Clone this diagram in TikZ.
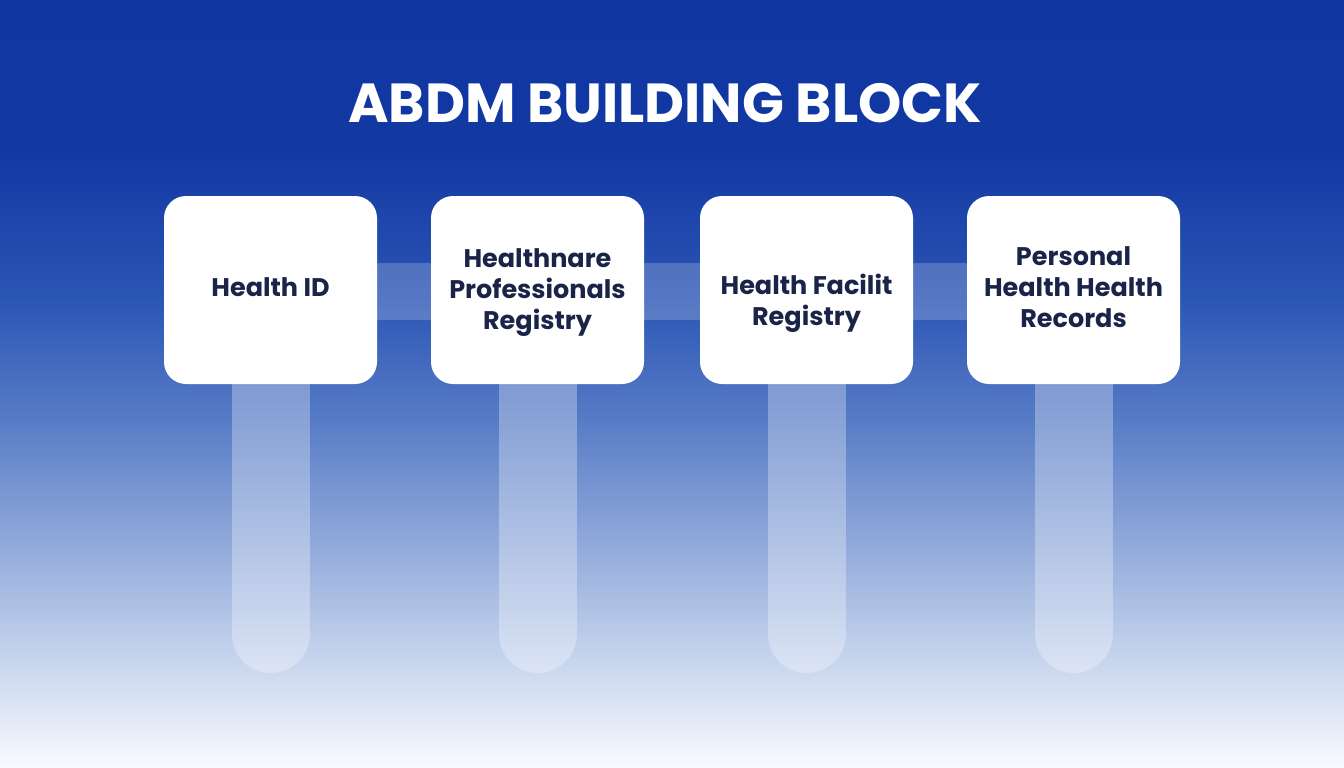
\documentclass[tikz,border=0pt]{standalone}
\usepackage{fontspec}
\setmainfont{Poppins}
\newfontfamily\titlefont{Poppins}
\usetikzlibrary{backgrounds}
\definecolor{ink}{HTML}{1A2448}
\definecolor{g0}{HTML}{1036A0}
\definecolor{g1}{HTML}{1238A3}
\definecolor{g2}{HTML}{2C56B5}
\definecolor{g3}{HTML}{577CC6}
\definecolor{g4}{HTML}{99B0DD}
\definecolor{g5}{HTML}{D0DCF1}
\definecolor{g6}{HTML}{F9FAFD}
\pgfdeclarelayer{bg}
\pgfsetlayers{bg,background,main}
\tikzset{
  block/.style={fill=white, rounded corners=22pt, minimum width=213pt, minimum height=188pt,
    inner sep=0pt},
  blocktext/.style={inner sep=0pt, align=center, text=ink, font=\bfseries\fontsize{25.5}{31}\selectfont},
  pillar/.style={draw=white, draw opacity=0.3, line width=78pt, line cap=round},
  bar/.style={fill=white, fill opacity=0.2},
  title/.style={text=white, font=\titlefont\bfseries\fontsize{55}{62}\selectfont, inner sep=0pt}
}
\begin{document}
\begin{tikzpicture}[x=1pt,y=-1pt]
\begin{pgfonlayer}{bg}
  \shade[top color=g0, bottom color=g1] (0,0) rectangle (1344,151);
  \shade[top color=g1, bottom color=g2] (0,150) rectangle (1344,301);
  \shade[top color=g2, bottom color=g3] (0,300) rectangle (1344,421);
  \shade[top color=g3, bottom color=g4] (0,420) rectangle (1344,561);
  \shade[top color=g4, bottom color=g5] (0,560) rectangle (1344,681);
  \shade[top color=g5, bottom color=g6] (0,680) rectangle (1344,768);
\end{pgfonlayer}
\useasboundingbox (0,0) rectangle (1344,768);

\node[title, anchor=base] (title) at (665,122) {ABDM BUILDING BLOCK};

\node[block] (b1) at (270.5,290) {};
\node[block] (b2) at (537.5,290) {};
\node[block] (b3) at (806.5,290) {};
\node[block] (b4) at (1073.5,290) {};

\node[blocktext] (t1) at ([yshift=3pt]b1.center) {Health ID};
\node[blocktext] (t2) at ([yshift=-2.5pt]b2.center) {Healthnare\\Professionals\\Registry};
\node[blocktext] (t3) at ([yshift=-13.5pt]b3.center) {Health Facilit\\Registry};
\node[blocktext] (t4) at ([yshift=2.5pt]b4.center) {Personal\\Health Health\\Records};

\foreach \i in {1,2,3,4}{
  \coordinate (p\i) at (b\i.south |- 0,634);
}
\begin{scope}[on background layer]
  \foreach \i in {1,2,3,4}{
    \draw[pillar] (b\i.center) -- (p\i);
  }
  \foreach \a/\b in {b1/b2,b2/b3,b3/b4}{
    \fill[bar] ([yshift=27pt]\a.east) rectangle ([yshift=-30pt]\b.west);
  }
\end{scope}
\end{tikzpicture}
\end{document}
